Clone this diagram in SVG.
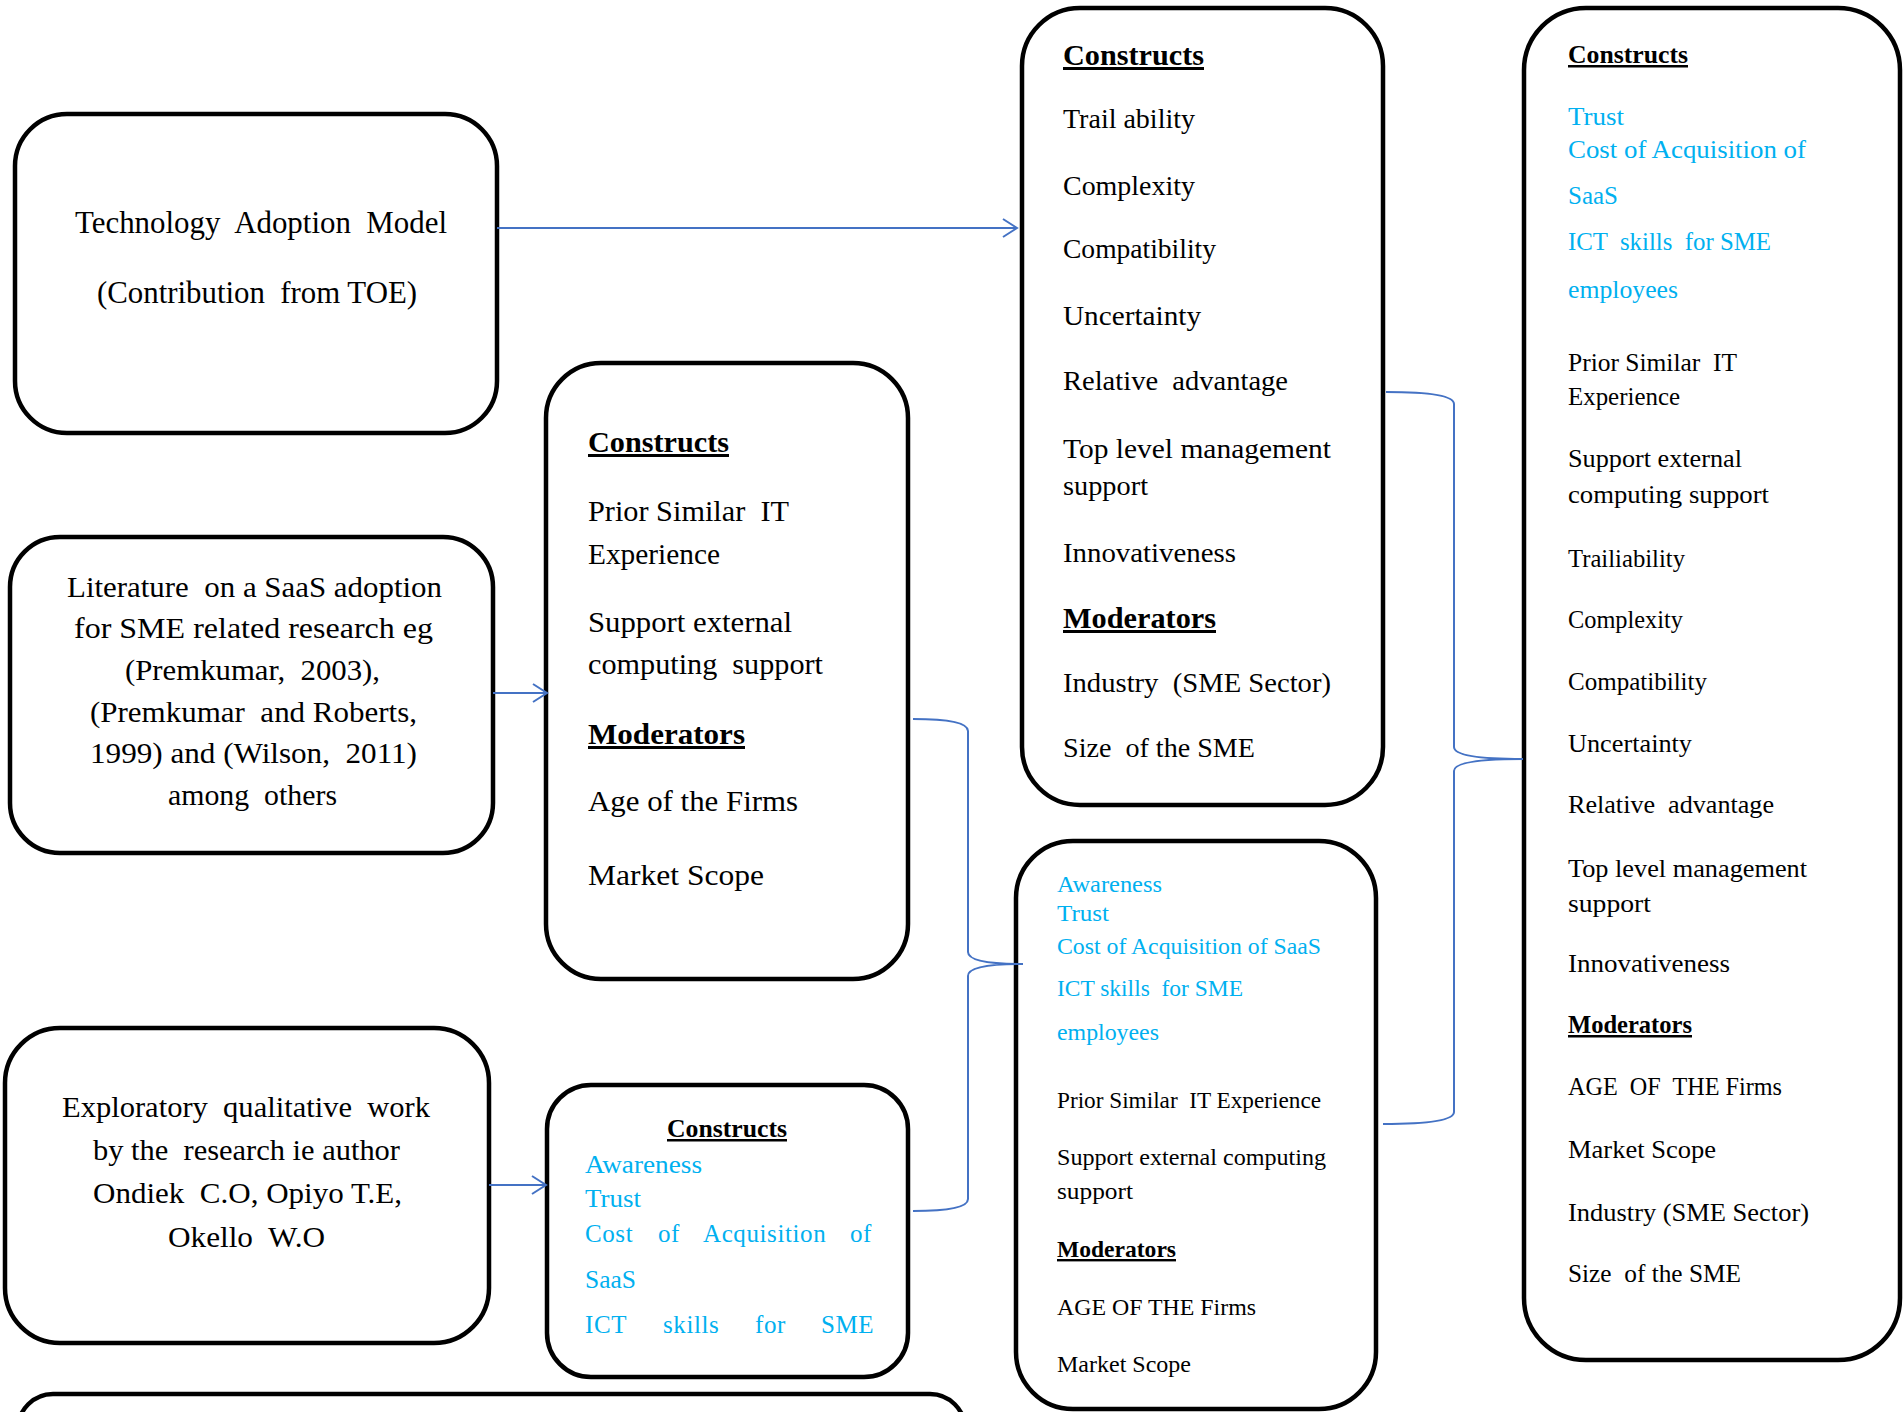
<svg xmlns="http://www.w3.org/2000/svg" width="1904" height="1412" viewBox="0 0 1904 1412">
  <style>
    .box { fill: none; stroke: #000; stroke-width: 4.5; }
    .t { font-family: "Liberation Serif", "Times New Roman", serif; fill: #000; white-space: pre; }
    .b { font-weight: bold; text-decoration: underline; }
    .c { fill: #00B0F0; }
    .f32 { font-size: 32px; }
    .f30 { font-size: 30px; }
    .f29 { font-size: 29px; }
    .f28 { font-size: 28px; }
    .f26 { font-size: 26px; }
    .f25 { font-size: 25px; }
    .f24 { font-size: 24px; }
    .conn { fill: none; stroke: #4472C4; stroke-width: 2; }
  </style>
  <defs>
    <marker id="arrow" markerUnits="userSpaceOnUse" markerWidth="18" markerHeight="22" refX="15" refY="10" orient="auto">
      <path d="M1,1 L15,10 L1,19" fill="none" stroke="#4472C4" stroke-width="2"/>
    </marker>
  </defs>

  <rect width="1904" height="1412" fill="#fff"/>

  <!-- Source: Technology Adoption Model -->
  <g id="node-tam">
    <rect class="box" x="15" y="114" width="482" height="319" rx="52"/>
    <text class="t f32" x="75" y="233" textLength="372" lengthAdjust="spacingAndGlyphs">Technology  Adoption  Model</text>
    <text class="t f32" x="97" y="303" textLength="320" lengthAdjust="spacingAndGlyphs">(Contribution  from TOE)</text>
  </g>

  <!-- Source: literature -->
  <g id="node-literature">
    <rect class="box" x="10" y="537" width="483" height="316" rx="50"/>
    <text class="t f29" x="67" y="597" textLength="375" lengthAdjust="spacingAndGlyphs">Literature  on a SaaS adoption</text>
    <text class="t f29" x="74" y="638" textLength="359" lengthAdjust="spacingAndGlyphs">for SME related research eg</text>
    <text class="t f29" x="125" y="680" textLength="255" lengthAdjust="spacingAndGlyphs">(Premkumar,  2003),</text>
    <text class="t f29" x="90" y="722" textLength="327" lengthAdjust="spacingAndGlyphs">(Premkumar  and Roberts,</text>
    <text class="t f29" x="90" y="763" textLength="327" lengthAdjust="spacingAndGlyphs">1999) and (Wilson,  2011)</text>
    <text class="t f29" x="168" y="805" textLength="169" lengthAdjust="spacingAndGlyphs">among  others</text>
  </g>

  <!-- Source: exploratory qualitative work -->
  <g id="node-exploratory">
    <rect class="box" x="5" y="1028" width="484" height="315" rx="55"/>
    <text class="t f29" x="62" y="1117" textLength="368" lengthAdjust="spacingAndGlyphs">Exploratory  qualitative  work</text>
    <text class="t f29" x="93" y="1160" textLength="307" lengthAdjust="spacingAndGlyphs">by the  research ie author</text>
    <text class="t f29" x="93" y="1203" textLength="309" lengthAdjust="spacingAndGlyphs">Ondiek  C.O, Opiyo T.E,</text>
    <text class="t f29" x="168" y="1247" textLength="157" lengthAdjust="spacingAndGlyphs">Okello  W.O</text>
  </g>

  <!-- Partly visible box at the foot of the page -->
  <g id="node-bottom">
    <rect class="box" x="18" y="1394" width="947" height="90" rx="35"/>
  </g>

  <!-- Constructs from literature -->
  <g id="node-literature-constructs">
    <rect class="box" x="546" y="363" width="362" height="616" rx="55"/>
    <text class="t b f30" x="588" y="452" textLength="141" lengthAdjust="spacingAndGlyphs">Constructs</text>
    <text class="t f30" x="588" y="521" textLength="201" lengthAdjust="spacingAndGlyphs">Prior Similar  IT</text>
    <text class="t f30" x="588" y="564" textLength="132" lengthAdjust="spacingAndGlyphs">Experience</text>
    <text class="t f30" x="588" y="632" textLength="204" lengthAdjust="spacingAndGlyphs">Support external</text>
    <text class="t f30" x="588" y="674" textLength="235" lengthAdjust="spacingAndGlyphs">computing  support</text>
    <text class="t b f30" x="588" y="744" textLength="157" lengthAdjust="spacingAndGlyphs">Moderators</text>
    <text class="t f30" x="588" y="811" textLength="210" lengthAdjust="spacingAndGlyphs">Age of the Firms</text>
    <text class="t f30" x="588" y="885" textLength="176" lengthAdjust="spacingAndGlyphs">Market Scope</text>
  </g>

  <!-- Constructs from exploratory work -->
  <g id="node-exploratory-constructs">
    <rect class="box" x="547" y="1085" width="361" height="292" rx="44"/>
    <text class="t b f25" x="667" y="1137" textLength="120" lengthAdjust="spacingAndGlyphs">Constructs</text>
    <text class="t c f25" x="585" y="1173" textLength="117" lengthAdjust="spacingAndGlyphs">Awareness</text>
    <text class="t c f25" x="585" y="1207" textLength="56" lengthAdjust="spacingAndGlyphs">Trust</text>
    <text class="t c f25" y="1242" letter-spacing="0.6"><tspan x="585">Cost</tspan><tspan x="658">of</tspan><tspan x="703">Acquisition</tspan><tspan x="850">of</tspan></text>
    <text class="t c f25" x="585" y="1288" textLength="51" lengthAdjust="spacingAndGlyphs">SaaS</text>
    <text class="t c f25" y="1333" letter-spacing="0.6"><tspan x="585">ICT</tspan><tspan x="663">skills</tspan><tspan x="755">for</tspan><tspan x="821">SME</tspan></text>
  </g>

  <!-- Constructs from TOE -->
  <g id="node-toe-constructs">
    <rect class="box" x="1022" y="8" width="361" height="797" rx="58"/>
    <text class="t b f30" x="1063" y="65" textLength="141" lengthAdjust="spacingAndGlyphs">Constructs</text>
    <text class="t f28" x="1063" y="128" textLength="132" lengthAdjust="spacingAndGlyphs">Trail ability</text>
    <text class="t f28" x="1063" y="195" textLength="132" lengthAdjust="spacingAndGlyphs">Complexity</text>
    <text class="t f28" x="1063" y="258" textLength="153" lengthAdjust="spacingAndGlyphs">Compatibility</text>
    <text class="t f28" x="1063" y="325" textLength="138" lengthAdjust="spacingAndGlyphs">Uncertainty</text>
    <text class="t f28" x="1063" y="390" textLength="225" lengthAdjust="spacingAndGlyphs">Relative  advantage</text>
    <text class="t f28" x="1063" y="458" textLength="268" lengthAdjust="spacingAndGlyphs">Top level management</text>
    <text class="t f28" x="1063" y="495" textLength="85" lengthAdjust="spacingAndGlyphs">support</text>
    <text class="t f28" x="1063" y="562" textLength="173" lengthAdjust="spacingAndGlyphs">Innovativeness</text>
    <text class="t b f30" x="1063" y="628" textLength="153" lengthAdjust="spacingAndGlyphs">Moderators</text>
    <text class="t f28" x="1063" y="692" textLength="268" lengthAdjust="spacingAndGlyphs">Industry  (SME Sector)</text>
    <text class="t f28" x="1063" y="757" textLength="192" lengthAdjust="spacingAndGlyphs">Size  of the SME</text>
  </g>

  <!-- Combined constructs -->
  <g id="node-combined">
    <rect class="box" x="1016" y="841" width="360" height="568" rx="57"/>
    <text class="t c f24" x="1057" y="892" textLength="105" lengthAdjust="spacingAndGlyphs">Awareness</text>
    <text class="t c f24" x="1057" y="921" textLength="52" lengthAdjust="spacingAndGlyphs">Trust</text>
    <text class="t c f24" x="1057" y="954" textLength="264" lengthAdjust="spacingAndGlyphs">Cost of Acquisition of SaaS</text>
    <text class="t c f24" x="1057" y="996" textLength="186" lengthAdjust="spacingAndGlyphs">ICT skills  for SME</text>
    <text class="t c f24" x="1057" y="1040" textLength="102" lengthAdjust="spacingAndGlyphs">employees</text>
    <text class="t f24" x="1057" y="1108" textLength="264" lengthAdjust="spacingAndGlyphs">Prior Similar  IT Experience</text>
    <text class="t f24" x="1057" y="1165" textLength="269" lengthAdjust="spacingAndGlyphs">Support external computing</text>
    <text class="t f24" x="1057" y="1199" textLength="76" lengthAdjust="spacingAndGlyphs">support</text>
    <text class="t b f24" x="1057" y="1257" textLength="119" lengthAdjust="spacingAndGlyphs">Moderators</text>
    <text class="t f24" x="1057" y="1315" textLength="199" lengthAdjust="spacingAndGlyphs">AGE OF THE Firms</text>
    <text class="t f24" x="1057" y="1372" textLength="134" lengthAdjust="spacingAndGlyphs">Market Scope</text>
  </g>

  <!-- Final model constructs -->
  <g id="node-final">
    <rect class="box" x="1524" y="8" width="376" height="1352" rx="62"/>
    <text class="t b f25" x="1568" y="63" textLength="120" lengthAdjust="spacingAndGlyphs">Constructs</text>
    <text class="t c f26" x="1568" y="125" textLength="56" lengthAdjust="spacingAndGlyphs">Trust</text>
    <text class="t c f26" x="1568" y="158" textLength="238" lengthAdjust="spacingAndGlyphs">Cost of Acquisition of</text>
    <text class="t c f26" x="1568" y="204" textLength="50" lengthAdjust="spacingAndGlyphs">SaaS</text>
    <text class="t c f26" x="1568" y="250" textLength="203" lengthAdjust="spacingAndGlyphs">ICT  skills  for SME</text>
    <text class="t c f26" x="1568" y="298" textLength="110" lengthAdjust="spacingAndGlyphs">employees</text>
    <text class="t f26" x="1568" y="371" textLength="169" lengthAdjust="spacingAndGlyphs">Prior Similar  IT</text>
    <text class="t f26" x="1568" y="405" textLength="112" lengthAdjust="spacingAndGlyphs">Experience</text>
    <text class="t f26" x="1568" y="467" textLength="174" lengthAdjust="spacingAndGlyphs">Support external</text>
    <text class="t f26" x="1568" y="503" textLength="201" lengthAdjust="spacingAndGlyphs">computing support</text>
    <text class="t f26" x="1568" y="567" textLength="117" lengthAdjust="spacingAndGlyphs">Trailiability</text>
    <text class="t f26" x="1568" y="628" textLength="115" lengthAdjust="spacingAndGlyphs">Complexity</text>
    <text class="t f26" x="1568" y="690" textLength="139" lengthAdjust="spacingAndGlyphs">Compatibility</text>
    <text class="t f26" x="1568" y="752" textLength="124" lengthAdjust="spacingAndGlyphs">Uncertainty</text>
    <text class="t f26" x="1568" y="813" textLength="206" lengthAdjust="spacingAndGlyphs">Relative  advantage</text>
    <text class="t f26" x="1568" y="877" textLength="239" lengthAdjust="spacingAndGlyphs">Top level management</text>
    <text class="t f26" x="1568" y="912" textLength="83" lengthAdjust="spacingAndGlyphs">support</text>
    <text class="t f26" x="1568" y="972" textLength="162" lengthAdjust="spacingAndGlyphs">Innovativeness</text>
    <text class="t b f25" x="1568" y="1033" textLength="124" lengthAdjust="spacingAndGlyphs">Moderators</text>
    <text class="t f26" x="1568" y="1095" textLength="214" lengthAdjust="spacingAndGlyphs">AGE  OF  THE Firms</text>
    <text class="t f26" x="1568" y="1158" textLength="148" lengthAdjust="spacingAndGlyphs">Market Scope</text>
    <text class="t f26" x="1568" y="1221" textLength="241" lengthAdjust="spacingAndGlyphs">Industry (SME Sector)</text>
    <text class="t f26" x="1568" y="1282" textLength="173" lengthAdjust="spacingAndGlyphs">Size  of the SME</text>
  </g>

  <!-- Connectors: arrows and grouping braces -->
  <g id="connectors">
    <line class="conn" x1="497" y1="228" x2="1017" y2="228" marker-end="url(#arrow)"/>
    <line class="conn" x1="493" y1="693" x2="547" y2="693" marker-end="url(#arrow)"/>
    <line class="conn" x1="489" y1="1185" x2="546" y2="1185" marker-end="url(#arrow)"/>
    <path class="conn" d="M913,719 Q968,719 968,731 L968,952 Q968,964 1023,964 Q968,964 968,976 L968,1199 Q968,1211 913,1211"/>
    <path class="conn" d="M1386,392 Q1454,392 1454,404 L1454,747 Q1454,759 1523,759 Q1454,759 1454,771 L1454,1112 Q1454,1124 1383,1124"/>
  </g>
</svg>
